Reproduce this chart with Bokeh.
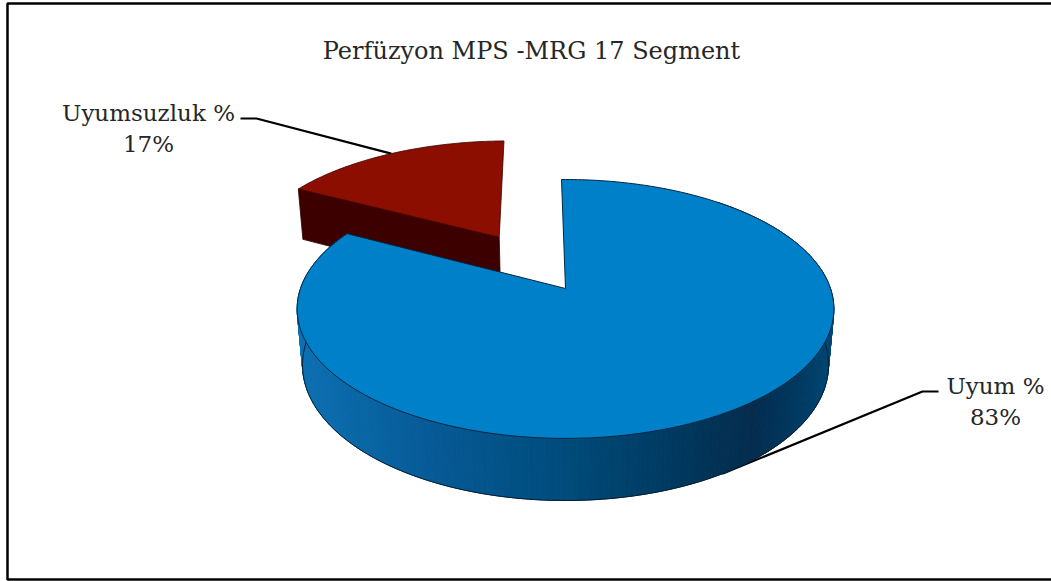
import math

from bokeh.core.properties import value
from bokeh.embed import file_html
from bokeh.models import Range1d
from bokeh.plotting import figure
from bokeh.resources import INLINE

# Chart content
title_text = "Perfüzyon MPS -MRG 17 Segment"
categories = ["Uyum %", "Uyumsuzluk %"]
shares = [83, 17]
top_colors = ["#0080c8", "#8b0e00"]
side_colors = ["#0a5c96", "#3d0000"]
label_font = value("DejaVu Serif")
ink = "#262626"

# Perspective camera for the 3D pie: unit disc (u, v) plus a depth z in [0, 1]
CX, W, A, B, C = 565.0, 265.0, 80.7, 288.0, -0.158
DEPTH_Y, DEPTH_SCALE = 62.3, 0.02
START_DEG = -1.0
EXPLODE = 0.51


def project(u, v, z=0.0):
    den = 1 + C * v + DEPTH_SCALE * z
    return CX + W * u / den, (A * v + B + DEPTH_Y * z) / den


def disc(deg, r=1.0, off=(0.0, 0.0)):
    t = math.radians(deg)
    return r * math.sin(t) + off[0], -r * math.cos(t) + off[1]


def arc_angles(a, b, n):
    return [a + (b - a) * i / n for i in range(n + 1)]


def mix(stops, x):
    for (x0, c0), (x1, c1) in zip(stops, stops[1:]):
        if x <= x1:
            f = max(0.0, (x - x0) / (x1 - x0))
            rgb = [round(p + (q - p) * f) for p, q in zip(c0, c1)]
            return "#%02x%02x%02x" % tuple(rgb)
    return "#%02x%02x%02x" % tuple(stops[-1][1])


# Slice angles come straight from the shares
blue_start = START_DEG
blue_end = blue_start + 360.0 * shares[0] / sum(shares)
red_end = blue_end + 360.0 * shares[1] / sum(shares)
red_mid = (blue_end + red_end) / 2
blue_mid = (blue_start + blue_end) / 2
shift = disc(red_mid, EXPLODE)

p = figure(
    width=1051,
    height=581,
    x_range=Range1d(0, 1051),
    y_range=Range1d(581, 0),
    output_backend="svg",
    toolbar_location=None,
    min_border=0,
    outline_line_color=None,
)
p.axis.visible = False
p.grid.visible = False

# Chart frame; its right side runs off the page
p.quad(left=7, right=1056, top=3, bottom=579, fill_color=None, line_color="#000000", line_width=2.5)

# Leader lines sit beneath the pie
red_tip = project(*disc(red_mid, 1.0, shift))
blue_tip = project(*disc(blue_mid), 1.0)
p.line([240, 256, red_tip[0]], [118, 118, red_tip[1]], line_color="#000000", line_width=2.2)
p.line([938, 922, blue_tip[0]], [391, 391, blue_tip[1]], line_color="#000000", line_width=2.2)

# Exploded slice: front wall, then top face
apex_top = project(*shift)
apex_low = project(*shift, 1.0)
left_top = project(*disc(blue_end, 1.0, shift))
left_low = project(*disc(blue_end, 1.0, shift), 1.0)
p.patch(
    [left_top[0], apex_top[0], apex_low[0], left_low[0]],
    [left_top[1], apex_top[1], apex_low[1], left_low[1]],
    fill_color=side_colors[1],
    line_color="#2a0000",
    line_width=0.8,
)
red_arc = [project(*disc(a, 1.0, shift)) for a in arc_angles(blue_end, red_end, 60)]
red_outline = [apex_top] + red_arc
p.patch(
    [q[0] for q in red_outline],
    [q[1] for q in red_outline],
    fill_color=top_colors[1],
    line_color="#3d0000",
    line_width=0.8,
)

# Outer wall of the large slice, shaded strip by strip
wall_stops = [
    (300, (12, 112, 178)),
    (430, (6, 90, 150)),
    (560, (0, 76, 124)),
    (680, (0, 56, 94)),
    (750, (4, 44, 78)),
    (800, (0, 58, 98)),
    (832, (0, 72, 118)),
]
wall_angles = arc_angles(40, blue_end, 260)
for a0, a1 in zip(wall_angles, wall_angles[1:]):
    u0, v0 = disc(a0)
    u1, v1 = disc(a1)
    corners = [project(u0, v0), project(u1, v1), project(u1, v1, 1.0), project(u0, v0, 1.0)]
    shade = mix(wall_stops, sum(c[0] for c in corners) / 4)
    p.patch([c[0] for c in corners], [c[1] for c in corners], fill_color=shade, line_color=shade, line_width=1)

low_edge = [project(*disc(a), 1.0) for a in wall_angles]
p.line([q[0] for q in low_edge], [q[1] for q in low_edge], line_color="#0a1e30", line_width=1)

# Top face of the large slice
blue_arc = [project(*disc(a)) for a in arc_angles(blue_start, blue_end, 300)]
blue_outline = [project(0.0, 0.0)] + blue_arc
p.patch(
    [q[0] for q in blue_outline],
    [q[1] for q in blue_outline],
    fill_color=top_colors[0],
    line_color="#04263f",
    line_width=1,
)

# Title and slice labels
p.text(
    [531], [50], text=[title_text], text_font=label_font, text_font_size="24px",
    text_color=ink, text_align="center", text_baseline="middle",
)
p.text(
    [148, 148], [112, 143], text=[categories[1], f"{shares[1]}%"], text_font=label_font,
    text_font_size="23px", text_color=ink, text_align="center", text_baseline="middle",
)
p.text(
    [995, 995], [385, 416], text=[categories[0], f"{shares[0]}%"], text_font=label_font,
    text_font_size="23px", text_color=ink, text_align="center", text_baseline="middle",
)

open("out.html", "w").write(file_html(p, INLINE))
